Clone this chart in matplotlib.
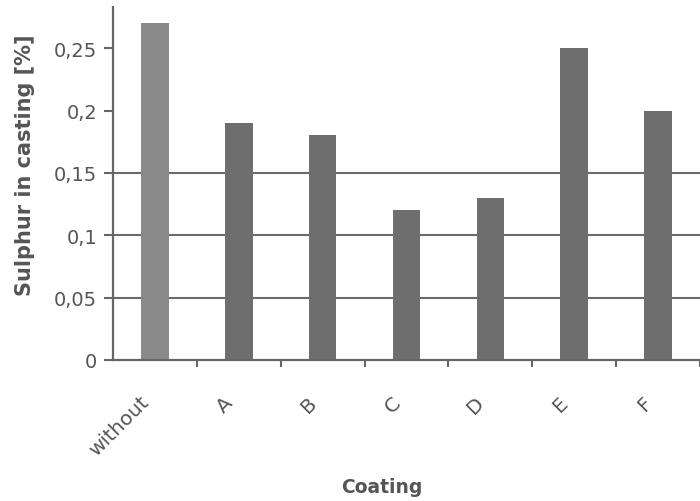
import matplotlib
matplotlib.use("Agg")
import matplotlib.pyplot as plt
import matplotlib.transforms as mtransforms
import numpy as np

categories = ["without", "A", "B", "C", "D", "E", "F"]
sulphur = [0.27, 0.19, 0.18, 0.12, 0.13, 0.25, 0.20]
bar_colors = ["#8a8a8a", "#6e6e6e", "#6e6e6e", "#6e6e6e", "#6e6e6e", "#6e6e6e", "#6e6e6e"]
y_ticks = [0, 0.05, 0.1, 0.15, 0.2, 0.25]
y_tick_labels = ["0", "0,05", "0,1", "0,15", "0,2", "0,25"]
grid_levels = [0.05, 0.1, 0.15]

text_color = "#555555"
line_color = "#666666"

fig = plt.figure(figsize=(7.0, 5.02), dpi=100)
ax = fig.add_axes([113/700, 1 - 361/502, 1 - 113/700, (361 - 8)/502])

x = np.arange(len(categories))
for lvl in grid_levels:
    ax.axhline(lvl, color="#6a6a6a", linewidth=1.5, zorder=1)
ax.bar(x, sulphur, width=0.33, color=bar_colors, zorder=2)

ax.set_xlim(-0.5, len(categories) - 0.5)
ax.set_ylim(0, 0.283)

for s in ["top", "right"]:
    ax.spines[s].set_visible(False)
for s in ["left", "bottom"]:
    ax.spines[s].set_color(line_color)
    ax.spines[s].set_linewidth(1.6)

ax.set_yticks(y_ticks)
ax.set_yticklabels(y_tick_labels)
ax.tick_params(axis="y", direction="out", length=6.5, width=1.5, color=line_color,
               labelsize=14, labelcolor=text_color, pad=5)

ax.set_xticks(x)
ax.set_xticklabels(categories)
ax.set_xticks(x + 0.5, minor=True)
ax.tick_params(axis="x", which="major", length=0, labelsize=14.5, labelcolor=text_color, pad=28)
ax.tick_params(axis="x", which="minor", direction="out", length=5, width=1.5, color=line_color)
offset = mtransforms.ScaledTranslation(-9/100, 0, fig.dpi_scale_trans)
for lab in ax.get_xticklabels():
    lab.set_rotation(45)
    lab.set_ha("right")
    lab.set_va("center")
    lab.set_rotation_mode("anchor")
    lab.set_transform(lab.get_transform() + offset)

fig.text(25/700, 1 - 165/502, "Sulphur in casting [%]", rotation=90, ha="center", va="center",
         fontsize=15, fontweight="bold", color=text_color)
fig.text(382/700, 1 - 488/502, "Coating", ha="center", va="center",
         fontsize=13.5, fontweight="bold", color=text_color)

fig.savefig("out.png", dpi=100)
